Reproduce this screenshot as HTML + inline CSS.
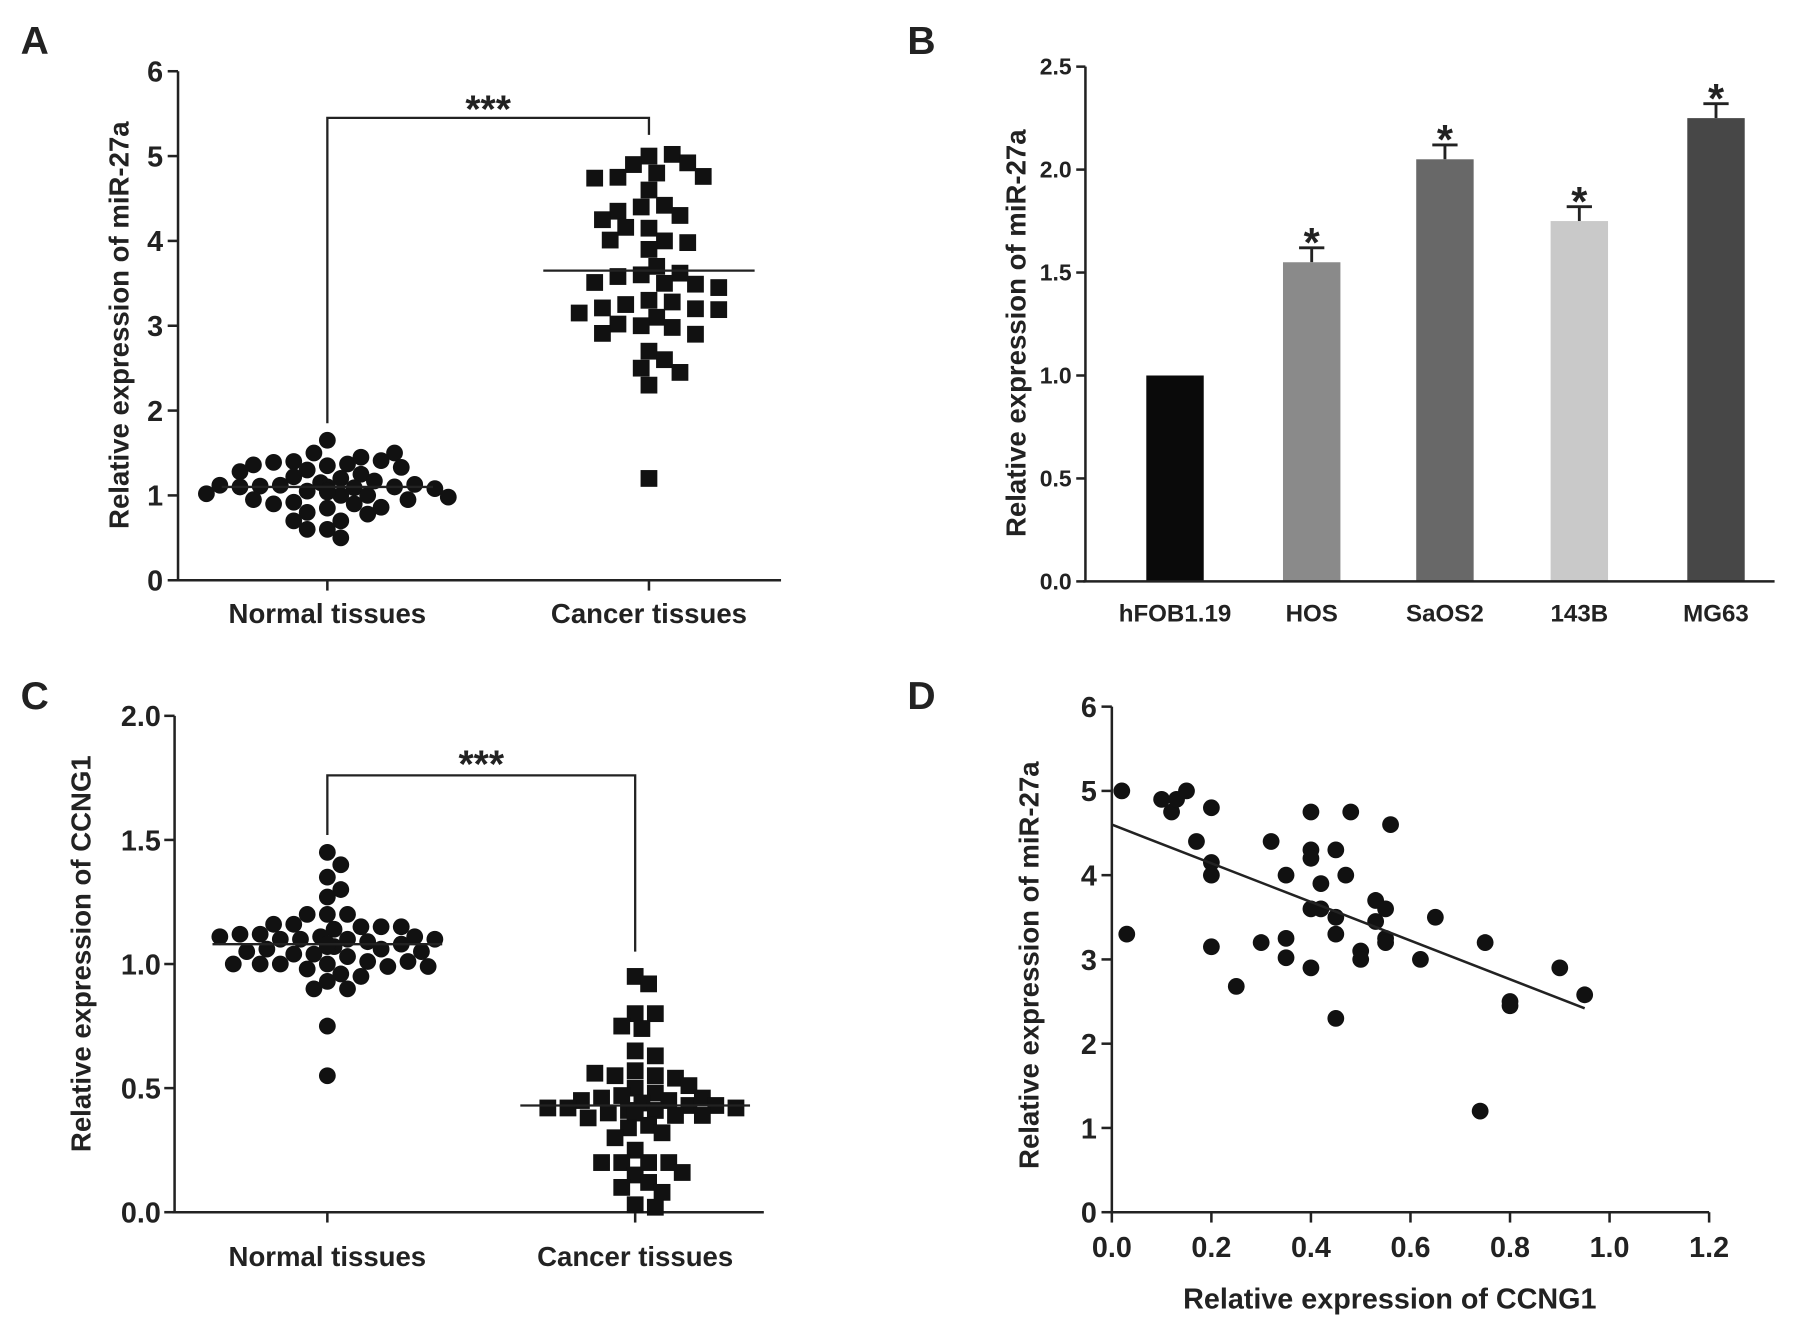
<!DOCTYPE html>
<html><head><meta charset="utf-8"><style>
html,body{margin:0;padding:0;background:#fff;}
svg{display:block;}
text{font-family:"Liberation Sans",Arial,sans-serif;font-weight:bold;fill:#222;}
</style></head><body>
<svg id="fig" width="1801" height="1334" viewBox="0 0 1568 1161" preserveAspectRatio="none" xmlns="http://www.w3.org/2000/svg"></svg>
<script>
// Panel A data
const aCategories = ["Normal tissues","Cancer tissues"];
const aNormal = [1.35,1.37,1.3,1.25,1.5,1.45,1.4,1.41,1.39,1.5,1.65,1.33,1.36,1.28,1.2,1.22,1.15,1.17,1.12,1.1,1.11,1.09,1.13,1.1,1.08,1.12,1.1,1.05,1.0,1.02,1.06,1.04,1.05,0.9,0.92,0.85,0.8,0.78,0.86,0.9,0.95,0.7,0.6,0.5,0.6,0.7,1.0,1.05,0.95,0.98];
const aCancer = [5.0,5.02,4.9,4.92,4.8,4.75,4.76,4.74,4.6,4.42,4.4,4.35,4.3,4.25,4.15,4.16,4.0,3.98,4.01,3.9,3.7,3.6,3.62,3.58,3.5,3.49,3.51,3.45,3.3,3.28,3.25,3.2,3.21,3.19,3.15,3.1,3.0,2.98,3.02,2.9,2.91,2.7,2.6,2.5,2.45,2.3,1.2];
const aMeans = [1.1,3.65];
const aTicks = [0,1,2,3,4,5,6];
// Panel B data
const bCategories = ["hFOB1.19","HOS","SaOS2","143B","MG63"];
const bValues = [1.0,1.55,2.05,1.75,2.25];
const bErrors = [0,0.07,0.07,0.07,0.07];
const bStars = [false,true,true,true,true];
const bTicks = ["0.0","0.5","1.0","1.5","2.0","2.5"];
// Panel C data
const cCategories = ["Normal tissues","Cancer tissues"];
const cNormal = [1.45,1.4,1.35,1.3,1.27,1.2,1.2,1.2,1.15,1.16,1.15,1.14,1.16,1.15,1.11,1.1,1.12,1.1,1.11,1.09,1.1,1.12,1.1,1.11,1.07,1.06,1.08,1.07,1.06,1.08,1.04,1.05,1.03,1.04,1.05,1.0,1.01,1.0,0.99,1.0,1.01,1.0,0.99,0.98,0.96,0.95,0.93,0.9,0.9,0.75,0.55];
const cCancer = [0.95,0.92,0.8,0.8,0.75,0.74,0.65,0.63,0.57,0.55,0.55,0.54,0.56,0.5,0.51,0.48,0.47,0.45,0.46,0.44,0.45,0.43,0.46,0.42,0.41,0.43,0.42,0.41,0.42,0.4,0.39,0.4,0.4,0.38,0.39,0.35,0.34,0.32,0.3,0.25,0.2,0.2,0.2,0.2,0.15,0.16,0.12,0.1,0.08,0.03,0.02];
const cMeans = [1.08,0.43];
const cTicks = ["0.0","0.5","1.0","1.5","2.0"];
// Panel D data
const dX = [0.02,0.03,0.1,0.12,0.13,0.15,0.17,0.2,0.2,0.2,0.2,0.25,0.3,0.32,0.35,0.35,0.35,0.4,0.4,0.4,0.4,0.4,0.42,0.42,0.45,0.45,0.45,0.45,0.47,0.48,0.5,0.5,0.53,0.53,0.55,0.55,0.55,0.56,0.62,0.65,0.74,0.75,0.8,0.8,0.9,0.95];
const dY = [5.0,3.3,4.9,4.75,4.9,5.0,4.4,4.8,4.15,4.0,3.15,2.68,3.2,4.4,4.0,3.25,3.02,4.75,4.3,4.2,3.6,2.9,3.6,3.9,4.3,3.5,3.3,2.3,4.0,4.75,3.1,3.0,3.7,3.45,3.6,3.25,3.2,4.6,3.0,3.5,1.2,3.2,2.5,2.45,2.9,2.58];
const dFit = [[0,4.6],[0.95,2.42]];
const dXTicks = ["0.0","0.2","0.4","0.6","0.8","1.0","1.2"];
const dYTicks = [0,1,2,3,4,5,6];

const NS="http://www.w3.org/2000/svg";
const svg=document.getElementById('fig');
function el(tag,attrs,parent){const e=document.createElementNS(NS,tag);for(const k in attrs)e.setAttribute(k,attrs[k]);(parent||svg).appendChild(e);return e;}
function txt(s,attrs,parent){const t=el('text',attrs,parent);t.textContent=s;return t;}
function line(x1,y1,x2,y2,g,w){return el('line',{x1,y1,x2,y2,stroke:'#222','stroke-width':w||2.2},g);}

function swarm(vals,cx,ys,d,maxOff){
  const placed=[];const out=[];
  vals.forEach(v=>{const y=ys(v);let k=0,x=cx;
    while(true){const off=(k===0?0:(k%2?1:-1)*Math.ceil(k/2)*d*0.45);x=cx+off;
      if(Math.abs(off)>maxOff){x=cx;break;}
      if(placed.every(p=>Math.hypot(p[0]-x,p[1]-y)>=d))break;k++;}
    placed.push([x,y]);out.push([x,y]);});
  return out;
}

function panelLetter(s,x,y,name){const t=txt(s,{x,y,'font-size':34});}

// ---------- Panel A ----------
(function(){
  const g=el('g',{});
  const X0=155,Y0=505,Y6=62,xEnd=680;const ys=v=>Y0-(v/6)*(Y0-Y6);const cx=[285,565];
  panelLetter('A',18,47,'panel-a-label');
  line(X0,Y0,X0,Y6,g);line(X0-2,Y0,xEnd,Y0,g);
  aTicks.forEach(v=>{line(X0-9,ys(v),X0,ys(v),g);const t=txt(String(v),{x:X0-13,y:ys(v)+9,'text-anchor':'end','font-size':25},g);});
  aCategories.forEach((c,i)=>{line(cx[i],Y0,cx[i],Y0+9,g);const t=txt(c,{x:cx[i],y:542,'text-anchor':'middle','font-size':24},g);});
  const yt=txt('Relative expression of miR-27a',{x:0,y:0,'text-anchor':'middle','font-size':24,transform:'translate(112,283) rotate(-90)'},g);
  
  swarm(aNormal,cx[0],ys,13,110).forEach(p=>{const c=el('circle',{cx:p[0],cy:p[1],r:7.3,fill:'#111'},g);});
  swarm(aCancer,cx[1],ys,15,80).forEach(p=>{const r=el('rect',{x:p[0]-7.3,y:p[1]-7.3,width:14.6,height:14.6,fill:'#111'},g);});
  aMeans.forEach((m,i)=>{const l=line(cx[i]-92,ys(m),cx[i]+92,ys(m),g,2);});
  const by=ys(5.45);
  const br=el('path',{d:`M${cx[0]} ${ys(1.85)} V${by} H${cx[1]} V${ys(5.25)}`,fill:'none',stroke:'#222','stroke-width':2},g);
  
  const st=txt('***',{x:(cx[0]+cx[1])/2,y:by+4,'text-anchor':'middle','font-size':34,'font-weight':'normal'},g);
  
})();

// ---------- Panel B ----------
(function(){
  const g=el('g',{});
  const X0=945,Y0=506,Ymax=58,xEnd=1545;const ys=v=>Y0-(v/2.5)*(Y0-Ymax);
  const cx=[1023,1142,1258,1375,1494];const colors=['#0a0a0a','#8a8a8a','#686868','#c9c9c9','#474747'];
  panelLetter('B',790,47,'panel-b-label');
  bValues.forEach((v,i)=>{
    if(bErrors[i]>0){line(cx[i],ys(v),cx[i],ys(v+bErrors[i]),g,2.5);line(cx[i]-11,ys(v+bErrors[i]),cx[i]+11,ys(v+bErrors[i]),g,2.5);}
    const r=el('rect',{x:cx[i]-25,y:ys(v),width:50,height:Y0-ys(v),fill:colors[i]},g);
    
    if(bStars[i]){const s=txt('*',{x:cx[i],y:ys(v+bErrors[i])+8,'text-anchor':'middle','font-size':36,'font-weight':'normal'},g);}
    const t=txt(bCategories[i],{x:cx[i],y:541,'text-anchor':'middle','font-size':21},g);
  });
  line(X0,Y0,X0,Ymax,g);line(X0-2,Y0,xEnd,Y0,g);
  bTicks.forEach((s,i)=>{const y=ys(i*0.5);line(X0-8,y,X0,y,g);const t=txt(s,{x:X0-12,y:y+7,'text-anchor':'end','font-size':20},g);});
  const yt=txt('Relative expression of miR-27a',{x:0,y:0,'text-anchor':'middle','font-size':24,transform:'translate(893,290) rotate(-90)'},g);
  
})();

// ---------- Panel C ----------
(function(){
  const g=el('g',{});
  const X0=152,Y0=1055,Ymax=623,xEnd=665;const ys=v=>Y0-(v/2)*(Y0-Ymax);const cx=[285,553];
  panelLetter('C',18,617,'panel-c-label');
  line(X0,Y0,X0,Ymax,g);line(X0-2,Y0,xEnd,Y0,g);
  cTicks.forEach((s,i)=>{const y=ys(i*0.5);line(X0-9,y,X0,y,g);const t=txt(s,{x:X0-12,y:y+9,'text-anchor':'end','font-size':25},g);});
  cCategories.forEach((c,i)=>{line(cx[i],Y0,cx[i],Y0+9,g);const t=txt(c,{x:cx[i],y:1102,'text-anchor':'middle','font-size':24},g);});
  const yt=txt('Relative expression of CCNG1',{x:0,y:0,'text-anchor':'middle','font-size':24,transform:'translate(79,830) rotate(-90)'},g);
  
  swarm(cNormal,cx[0],ys,13,100).forEach(p=>{const c=el('circle',{cx:p[0],cy:p[1],r:7.3,fill:'#111'},g);});
  swarm(cCancer,cx[1],ys,13,88).forEach(p=>{const r=el('rect',{x:p[0]-7.3,y:p[1]-7.3,width:14.6,height:14.6,fill:'#111'},g);});
  cMeans.forEach((m,i)=>{const l=line(cx[i]-100,ys(m),cx[i]+100,ys(m),g,2);});
  const by=ys(1.76);
  const br=el('path',{d:`M${cx[0]} ${ys(1.52)} V${by} H${cx[1]} V${ys(1.05)}`,fill:'none',stroke:'#222','stroke-width':2},g);
  
  const st=txt('***',{x:(cx[0]+cx[1])/2,y:by+2,'text-anchor':'middle','font-size':34,'font-weight':'normal'},g);
  
})();

// ---------- Panel D ----------
(function(){
  const g=el('g',{});
  const X0=968,X1=1488,Y0=1055,Ymax=615;const xs=v=>X0+(v/1.2)*(X1-X0);const ys=v=>Y0-(v/6)*(Y0-Ymax);
  panelLetter('D',790,617,'panel-d-label');
  line(X0,Y0,X0,Ymax,g);line(X0-2,Y0,X1,Y0,g);
  dYTicks.forEach(v=>{line(X0-9,ys(v),X0,ys(v),g);const t=txt(String(v),{x:X0-13,y:ys(v)+9,'text-anchor':'end','font-size':25},g);});
  dXTicks.forEach((s,i)=>{const x=xs(i*0.2);line(x,Y0,x,Y0+9,g);const t=txt(s,{x,y:1094,'text-anchor':'middle','font-size':25},g);});
  const xt=txt('Relative expression of CCNG1',{x:(X0+X1)/2-18,y:1139,'text-anchor':'middle','font-size':25},g);
  
  const yt=txt('Relative expression of miR-27a',{x:0,y:0,'text-anchor':'middle','font-size':24,transform:'translate(904,840) rotate(-90)'},g);
  
  dX.forEach((x,i)=>{const c=el('circle',{cx:xs(x),cy:ys(dY[i]),r:7.3,fill:'#111'},g);});
  const fl=line(xs(dFit[0][0]),ys(dFit[0][1]),xs(dFit[1][0]),ys(dFit[1][1]),g,2.2);
  
})();
</script>
</body></html>
